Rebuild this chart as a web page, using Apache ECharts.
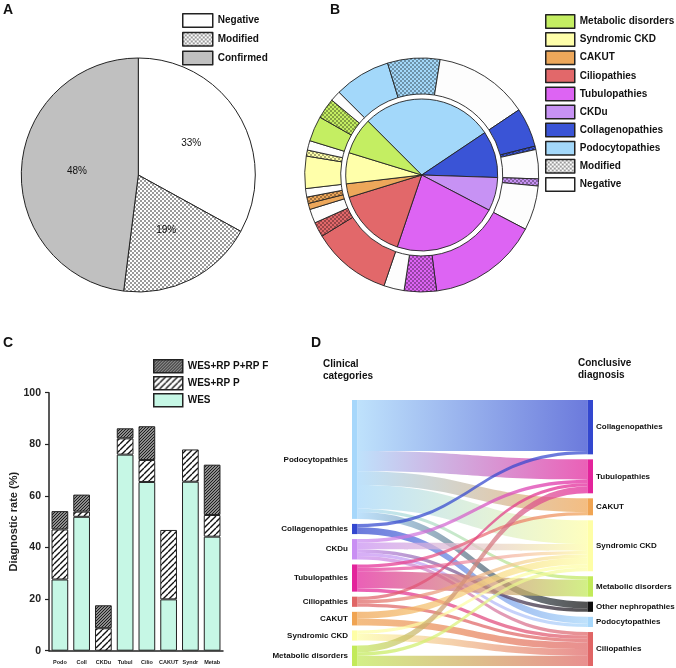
<!DOCTYPE html>
<html><head><meta charset="utf-8">
<script src="https://cdn.jsdelivr.net/npm/echarts@6/dist/echarts.min.js"></script>
<style>html,body{margin:0;padding:0;background:#fff}#c{width:676px;height:668px}</style>
</head><body><div id="c"></div><script>
// ---------- Panel A ----------
const aNames = ['Negative', 'Modified', 'Confirmed'];
const aValues = [33, 19, 48];

// ---------- Panel B (angles read in degrees) ----------
const bCategories = ['Podocytopathies', 'Collagenopathies', 'CKDu', 'Tubulopathies', 'Ciliopathies', 'CAKUT', 'Syndromic CKD', 'Metabolic disorders'];
const bInner = [101, 35.7, 25.6, 81.1, 54, 10.4, 23.7, 27.9];
const bConfirmed = [28, 19.5, 0, 55, 39.6, 3, 16, 12.5];
const bModified = [26, 1.7, 3.5, 16, 7.4, 3.2, 3, 10.2];
const bNegative = [47, 14.5, 22.1, 10.1, 7, 4.2, 4.7, 5.2];
const bLegendOrder = ['Metabolic disorders', 'Syndromic CKD', 'CAKUT', 'Ciliopathies', 'Tubulopathies', 'CKDu', 'Collagenopathies', 'Podocytopathies', 'Modified', 'Negative'];

// ---------- Panel C ----------
const cCategories = ['Podo', 'Coll', 'CKDu', 'Tubul', 'Cilio', 'CAKUT', 'Syndr', 'Metab'];
const cWES = [27.6, 51.9, 0, 76.0, 65.4, 19.9, 65.5, 44.2];
const cRPP = [19.4, 2.0, 8.7, 6.3, 8.5, 26.9, 12.5, 8.4];
const cRPF = [7.1, 6.6, 8.9, 3.9, 13.1, 0, 0, 19.5];

// ---------- Panel D ----------
const dLeft = ['Podocytopathies', 'Collagenopathies', 'CKDu', 'Tubulopathies', 'Ciliopathies', 'CAKUT', 'Syndromic CKD', 'Metabolic disorders'];
const dRight = ['Collagenopathies', 'Tubulopathies', 'CAKUT', 'Syndromic CKD', 'Metabolic disorders', 'Other nephropathies', 'Podocytopathies', 'Ciliopathies'];
const dFlows = [
  ['Podocytopathies', 'Collagenopathies', 15], ['Podocytopathies', 'Tubulopathies', 6], ['Podocytopathies', 'CAKUT', 4],
  ['Podocytopathies', 'Syndromic CKD', 7], ['Podocytopathies', 'Metabolic disorders', 1], ['Podocytopathies', 'Other nephropathies', 2],
  ['Collagenopathies', 'Collagenopathies', 1], ['Collagenopathies', 'Podocytopathies', 2],
  ['CKDu', 'Tubulopathies', 1], ['CKDu', 'Syndromic CKD', 2], ['CKDu', 'Other nephropathies', 1], ['CKDu', 'Podocytopathies', 1], ['CKDu', 'Ciliopathies', 1],
  ['Tubulopathies', 'CAKUT', 1], ['Tubulopathies', 'Syndromic CKD', 1], ['Tubulopathies', 'Metabolic disorders', 5], ['Tubulopathies', 'Ciliopathies', 1],
  ['Ciliopathies', 'Tubulopathies', 1], ['Ciliopathies', 'Syndromic CKD', 1], ['Ciliopathies', 'Ciliopathies', 1],
  ['CAKUT', 'Syndromic CKD', 2], ['CAKUT', 'Ciliopathies', 2],
  ['Syndromic CKD', 'Syndromic CKD', 1], ['Syndromic CKD', 'Ciliopathies', 2],
  ['Metabolic disorders', 'Tubulopathies', 2], ['Metabolic disorders', 'Syndromic CKD', 1], ['Metabolic disorders', 'Ciliopathies', 3]
];

// ---------- styles ----------
const FONT = 'Liberation Sans, Arial, sans-serif';
const pieColors = {
  'Podocytopathies': '#a3d8fa', 'Collagenopathies': '#3a54d6', 'CKDu': '#c792f4', 'Tubulopathies': '#dd64f3',
  'Ciliopathies': '#e2686a', 'CAKUT': '#eda75a', 'Syndromic CKD': '#ffffaa', 'Metabolic disorders': '#c4ee62'
};
const sankeyColors = {
  'Podocytopathies': '#a6d7fb', 'Collagenopathies': '#3347cf', 'CKDu': '#c98ff3', 'Tubulopathies': '#e3239b',
  'Ciliopathies': '#e06565', 'CAKUT': '#f0a452', 'Syndromic CKD': '#fefea6', 'Metabolic disorders': '#c2ea59',
  'Other nephropathies': '#0e0e0e'
};

function makePattern(size, bg, draw) {
  const c = document.createElement('canvas');
  c.width = size; c.height = size;
  const g = c.getContext('2d');
  g.fillStyle = bg; g.fillRect(0, 0, size, size);
  draw(g, size);
  return { image: c, repeat: 'repeat' };
}
function checker(bg, fg) {
  return makePattern(4, bg, (g) => { g.fillStyle = fg; g.fillRect(0, 0, 2, 2); g.fillRect(2, 2, 2, 2); });
}
function stripes(size, bg, fg, lw) {
  return makePattern(size, bg, (g, s) => {
    g.strokeStyle = fg; g.lineWidth = lw; g.beginPath();
    for (const k of [-s, 0, s]) { g.moveTo(k, s); g.lineTo(k + s, 0); }
    g.stroke();
  });
}
const greyCheck = checker('#ffffff', '#9a9a9a');
const aColors = ['#ffffff', greyCheck, '#c0c0c0'];

// outer ring data of B
const bOuter = [];
bCategories.forEach((cat, i) => {
  if (bConfirmed[i] > 0) bOuter.push({ name: cat, value: bConfirmed[i], itemStyle: { color: pieColors[cat] } });
  if (bModified[i] > 0) bOuter.push({ name: 'Modified', value: bModified[i], itemStyle: { color: checker(pieColors[cat], 'rgba(0,0,0,0.32)') } });
  if (bNegative[i] > 0) bOuter.push({ name: 'Negative', value: bNegative[i], itemStyle: { color: '#fdfdfd' } });
});

const rppPattern = stripes(6, '#ffffff', '#111111', 1.4);
const rpfPattern = stripes(3, '#8c8c8c', '#1e1e1e', 1);
const nz = (v) => (v === 0 ? null : v);

const sankeyNodes = dLeft.map(n => ({ name: 'L_' + n, itemStyle: { color: sankeyColors[n] }, label: { position: 'left', distance: 4 } }))
  .concat(dRight.map(n => ({ name: 'R_' + n, itemStyle: { color: sankeyColors[n] }, label: { position: 'right', distance: 3 } })));
const sankeyLinks = dFlows.map(f => ({ source: 'L_' + f[0], target: 'R_' + f[1], value: f[2] }));

const legendCommon = {
  orient: 'vertical', icon: 'rect', padding: 0, selectedMode: false,
  textStyle: { fontSize: 10, fontWeight: 'bold', color: '#111', fontFamily: FONT },
  itemStyle: { borderColor: '#222', borderWidth: 1.5 }
};

const chart = echarts.init(document.getElementById('c'));
chart.setOption({
  animation: false,
  textStyle: { fontFamily: FONT },
  legend: [
    Object.assign({}, legendCommon, { left: 182, top: 13, itemWidth: 30, itemHeight: 13.5, itemGap: 3.7, data: aNames }),
    Object.assign({}, legendCommon, { left: 545, top: 14, itemWidth: 29, itemHeight: 13.5, itemGap: 3.1, data: bLegendOrder }),
    Object.assign({}, legendCommon, { left: 153, top: 359, itemWidth: 29, itemHeight: 13, itemGap: 2.5, data: ['WES+RP P+RP F', 'WES+RP P', 'WES'] })
  ],
  graphic: [
    { type: 'text', left: 3, top: 3, style: { text: 'A', font: 'bold 14px ' + FONT, fill: '#111' } },
    { type: 'text', left: 330, top: 3, style: { text: 'B', font: 'bold 14px ' + FONT, fill: '#111' } },
    { type: 'text', left: 3, top: 336, style: { text: 'C', font: 'bold 14px ' + FONT, fill: '#111' } },
    { type: 'text', left: 311, top: 336, style: { text: 'D', font: 'bold 14px ' + FONT, fill: '#111' } },
    { type: 'text', left: 323, top: 358, style: { text: 'Clinical\ncategories', font: 'bold 10px ' + FONT, fill: '#111', lineHeight: 12 } },
    { type: 'text', left: 578, top: 357, style: { text: 'Conclusive\ndiagnosis', font: 'bold 10px ' + FONT, fill: '#111', lineHeight: 12 } }
  ],
  grid: { left: 49, top: 392.7, width: 174, height: 258 },
  xAxis: {
    type: 'category', data: cCategories,
    axisLine: { lineStyle: { color: '#222', width: 1.5 } },
    axisTick: { show: false },
    axisLabel: { interval: 0, fontSize: 5.5, fontWeight: 'bold', color: '#222', margin: 9 }
  },
  yAxis: {
    type: 'value', min: 0, max: 100, interval: 20,
    name: 'Diagnostic rate (%)', nameLocation: 'middle', nameGap: 25,
    nameTextStyle: { fontSize: 11, fontWeight: 'bold', color: '#222' },
    axisLine: { show: true, lineStyle: { color: '#222', width: 1.5 } },
    axisTick: { show: true, length: 4, lineStyle: { color: '#222', width: 1.2 } },
    splitLine: { show: false },
    axisLabel: { fontSize: 10.5, fontWeight: 'bold', color: '#222', margin: 8 }
  },
  series: [
    {
      type: 'pie', name: 'A', center: [138.3, 175], radius: [0, 117], startAngle: 90, clockwise: true,
      silent: true, emphasis: { disabled: true },
      itemStyle: { borderColor: '#222', borderWidth: 1 },
      label: { show: true, position: 'inside', formatter: '{c}%', fontSize: 10, color: '#111' },
      labelLine: { show: false },
      data: aNames.map((n, i) => ({ name: n, value: aValues[i], itemStyle: { color: aColors[i] } }))
    },
    {
      type: 'pie', name: 'B inner', center: [421.7, 175], radius: [0, 76], startAngle: 135, clockwise: true,
      silent: true, emphasis: { disabled: true },
      itemStyle: { borderColor: '#222', borderWidth: 0.9 },
      label: { show: false }, labelLine: { show: false },
      data: bCategories.map((c, i) => ({ name: c, value: bInner[i], itemStyle: { color: pieColors[c] } }))
    },
    {
      type: 'pie', name: 'B outer', center: [421.7, 175], radius: [81, 117], startAngle: 135, clockwise: true,
      silent: true, emphasis: { disabled: true },
      itemStyle: { borderColor: '#222', borderWidth: 0.9 },
      label: { show: false }, labelLine: { show: false },
      data: bOuter
    },
    {
      type: 'bar', name: 'WES', stack: 'd', barWidth: 16.7, data: cWES.map(nz),
      itemStyle: { color: '#c6f7e5', borderColor: '#222', borderWidth: 1 }
    },
    {
      type: 'bar', name: 'WES+RP P', stack: 'd', barWidth: 16.7, data: cRPP.map(nz),
      itemStyle: { color: rppPattern, borderColor: '#222', borderWidth: 1 }
    },
    {
      type: 'bar', name: 'WES+RP P+RP F', stack: 'd', barWidth: 16.7, data: cRPF.map(nz),
      itemStyle: { color: rpfPattern, borderColor: '#222', borderWidth: 1 }
    },
    {
      type: 'sankey', left: 352, top: 400, width: 241, height: 266,
      nodeWidth: 5.5, nodeGap: 5, layoutIterations: 0, draggable: false,
      emphasis: { disabled: true }, silent: true,
      data: sankeyNodes, links: sankeyLinks,
      itemStyle: { borderWidth: 0 },
      label: { fontSize: 8, fontWeight: 'bold', color: '#111', formatter: (p) => p.name.slice(2) },
      lineStyle: { color: 'gradient', opacity: 0.72, curveness: 0.5 }
    }
  ]
});
</script></body></html>
